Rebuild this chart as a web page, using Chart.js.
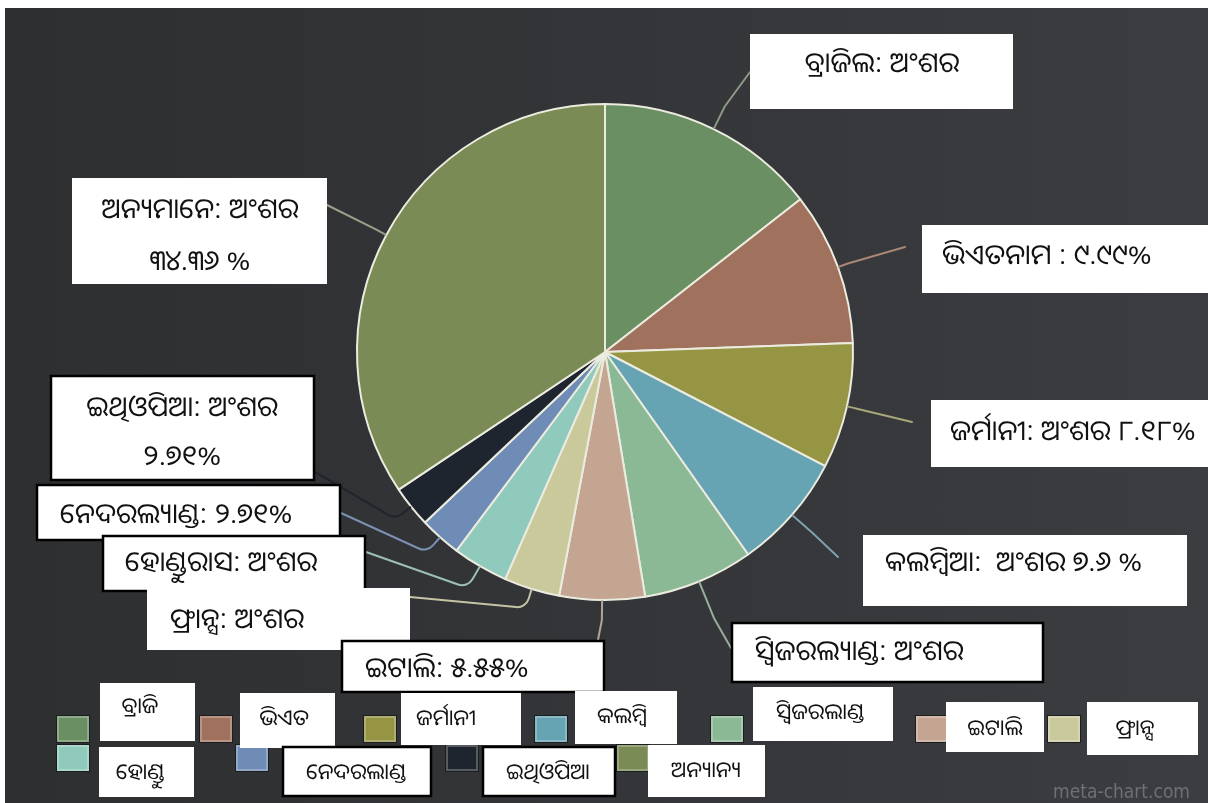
<!DOCTYPE html>
<html>
<head>
<meta charset="utf-8">
<title>ଅଂଶ</title>
<script src="https://cdn.jsdelivr.net/npm/chart.js@4"></script>
<style>
  html, body { margin: 0; padding: 0; background: #fff; }
  #backdrop {
    position: absolute; left: 5px; top: 8px; width: 1203px; height: 795px;
    background: linear-gradient(90deg, #2d2f31 0%, #333538 50%, #3b3d41 100%);
  }
  #wrap { position: absolute; left: 0; top: 0; width: 1208px; height: 803px; }
</style>
</head>
<body>
<div id="backdrop"></div>
<div id="wrap"><canvas id="pie"></canvas></div>
<script>
// slice data, clockwise from 12 o'clock
const names = ['ବ୍ରାଜିଲ', 'ଭିଏତନାମ', 'ଜର୍ମାନୀ', 'କଲମ୍ବିଆ', 'ସ୍ୱିଜରଲ୍ୟାଣ୍ଡ', 'ଇଟାଲି', 'ଫ୍ରାନ୍ସ', 'ହୋଣ୍ଡୁରାସ', 'ନେଦରଲ୍ୟାଣ୍ଡ', 'ଇଥିଓପିଆ', 'ଅନ୍ୟମାନେ'];
const legendNames = ['ବ୍ରାଜି', 'ଭିଏତ', 'ଜର୍ମାନୀ', 'କଲମ୍ବି', 'ସ୍ୱିଜରଲାଣ୍ଡ', 'ଇଟାଲି', 'ଫ୍ରାନ୍ସ', 'ହୋଣ୍ଡୁ', 'ନେଦରଲାଣ୍ଡ', 'ଇଥିଓପିଆ', 'ଅନ୍ୟାନ୍ୟ'];
const shares = [14.44, 9.99, 8.18, 7.6, 7.2, 5.55, 3.63, 3.63, 2.71, 2.71, 34.36];
const sliceColors = ['#6a8f63', '#a0725e', '#959544', '#66a4b4', '#8bb895', '#c3a591', '#c9c99b', '#8fcabd', '#6f8cb6', '#1e252e', '#7a8b55'];
const lineColors  = ['#8c9c86', '#a98676', '#a7a77a', '#7ea3ad', '#99ad9d', '#b4a497', '#c4c4a4', '#9cc0b8', '#7c90b0', '#1f242b', '#9a9f8c'];

// callout text per slice; {n} = name, {v} = share in Odia digits
const calloutText = [
  ['{n}: ଅଂଶର'],
  ['{n} : {v}%'],
  ['{n}: ଅଂଶର {v}%'],
  ['{n}:  ଅଂଶର {v} %'],
  ['{n}: ଅଂଶର'],
  ['{n}: {v}%'],
  ['{n}: ଅଂଶର'],
  ['{n}: ଅଂଶର'],
  ['{n}: {v}%'],
  ['{n}: ଅଂଶର', '{v}%'],
  ['{n}: ଅଂଶର', '{v} %'],
];

// callout placement: box [x, y, w, h], text anchor, leader (radial extension + end point)
const callouts = [
  { box: [750, 34, 263, 75],  border: false, tx: 882, ty: [64],       align: 'center', ext: 25, end: [750, 72] },
  { box: [922, 225, 290, 68], border: false, tx: 942, ty: [256],      align: 'left',   ext: 10, end: [905, 247] },
  { box: [931, 400, 280, 67], border: false, tx: 950, ty: [432],      align: 'left',   ext: 8,  end: [912, 422] },
  { box: [863, 535, 324, 71], border: false, tx: 885, ty: [563],      align: 'left',   ext: 25, end: [838, 557] },
  { box: [731, 622, 313, 61], border: true,  tx: 755, ty: [652],      align: 'left',   ext: 40, end: [731, 648] },
  { box: [341, 640, 264, 53], border: true,  tx: 365, ty: [669],      align: 'left',   ext: 20, end: [598, 640] },
  { box: [147, 588, 263, 62], border: false, tx: 170, ty: [620],      align: 'left',   ext: 20, end: [410, 597] },
  { box: [102, 535, 264, 57], border: true,  tx: 125, ty: [563],      align: 'left',   ext: 25, end: [366, 552] },
  { box: [36, 484, 305, 57],  border: true,  tx: 60,  ty: [515],      align: 'left',   ext: 20, end: [341, 513] },
  { box: [50, 375, 265, 106], border: true,  tx: 182, ty: [408, 457], align: 'center', ext: 20, end: [315, 472] },
  { box: [72, 178, 255, 106], border: false, tx: 200, ty: [210, 262], align: 'center', ext: 10, end: [327, 205] },
];
// painting order of the callout boxes (later ones overlap earlier ones)
const calloutOrder = [0, 1, 2, 3, 4, 10, 9, 8, 7, 6, 5];

// legend: swatch [x, y], label box [x, y, w, h], label centre
const legendItems = [
  { sw: [57, 716],   box: [100, 683, 95, 58],   tx: 140,  ty: 707, border: false },
  { sw: [200, 716],  box: [240, 693, 95, 55],   tx: 284,  ty: 719, border: false },
  { sw: [364, 716],  box: [401, 693, 120, 52],  tx: 446,  ty: 719, border: false },
  { sw: [535, 716],  box: [575, 691, 102, 53],  tx: 622,  ty: 717, border: false },
  { sw: [711, 716],  box: [753, 687, 140, 54],  tx: 820,  ty: 713, border: false },
  { sw: [916, 716],  box: [946, 702, 98, 50],   tx: 995,  ty: 729, border: false },
  { sw: [1048, 716], box: [1087, 702, 111, 53], tx: 1135, ty: 729, border: false },
  { sw: [57, 745],   box: [99, 747, 95, 50],    tx: 140,  ty: 773, border: false },
  { sw: [236, 745],  box: [282, 746, 150, 51],  tx: 356,  ty: 773, border: true },
  { sw: [446, 745],  box: [482, 746, 134, 51],  tx: 548,  ty: 773, border: true },
  { sw: [617, 745],  box: [648, 745, 117, 52],  tx: 706,  ty: 771, border: false },
];

const FONT = '"Noto Sans Oriya", "Noto Sans", "Lohit Odia", sans-serif';
const odiaDigits = '୦୧୨୩୪୫୬୭୮୯';

function toOdia(v) {
  return String(v).replace(/\d/g, d => odiaDigits[+d]);
}

function drawBox(ctx, b, border) {
  ctx.fillStyle = '#ffffff';
  ctx.fillRect(b[0], b[1], b[2], b[3]);
  if (border) {
    ctx.strokeStyle = '#000000';
    ctx.lineWidth = 2.5;
    ctx.strokeRect(b[0] + 1, b[1] + 1, b[2] - 2, b[3] - 2);
  }
}

const leaderPlugin = {
  id: 'leaders',
  afterDatasetsDraw(chart) {
    const ctx = chart.ctx;
    const arcs = chart.getDatasetMeta(0).data;
    ctx.save();
    ctx.lineWidth = 2;
    ctx.lineCap = 'round';
    arcs.forEach((arc, i) => {
      const c = callouts[i];
      const mid = (arc.startAngle + arc.endAngle) / 2;
      const r = arc.outerRadius;
      const sx = arc.x + Math.cos(mid) * (r + 1);
      const sy = arc.y + Math.sin(mid) * (r + 1);
      const kx = arc.x + Math.cos(mid) * (r + c.ext);
      const ky = arc.y + Math.sin(mid) * (r + c.ext);
      ctx.strokeStyle = lineColors[i];
      ctx.beginPath();
      ctx.moveTo(sx, sy);
      ctx.arcTo(kx, ky, c.end[0], c.end[1], 12);
      ctx.lineTo(c.end[0], c.end[1]);
      ctx.stroke();
    });
    ctx.restore();
  }
};

const labelPlugin = {
  id: 'callouts',
  afterDraw(chart) {
    const ctx = chart.ctx;
    ctx.save();
    ctx.textBaseline = 'middle';

    calloutOrder.forEach(i => {
      const c = callouts[i];
      drawBox(ctx, c.box, c.border);
      ctx.fillStyle = '#111111';
      ctx.font = '28px ' + FONT;
      ctx.textAlign = c.align;
      calloutText[i].forEach((t, k) => {
        const s = t.replace('{n}', names[i]).replace('{v}', toOdia(shares[i]));
        ctx.fillText(s, c.tx, c.ty[k]);
      });
    });

    // legend swatches first, label boxes laid over them
    legendItems.forEach((it, i) => {
      const [x, y] = it.sw;
      ctx.fillStyle = '#1c1d1f';
      ctx.fillRect(x - 1, y - 1, 34, 28);
      ctx.fillStyle = sliceColors[i];
      ctx.fillRect(x, y, 32, 26);
      ctx.strokeStyle = 'rgba(255,255,255,0.25)';
      ctx.lineWidth = 2;
      ctx.strokeRect(x + 1, y + 1, 30, 24);
    });
    legendItems.forEach((it, i) => {
      drawBox(ctx, it.box, it.border);
      ctx.fillStyle = '#111111';
      ctx.font = '22px ' + FONT;
      ctx.textAlign = 'center';
      ctx.fillText(legendNames[i], it.tx, it.ty);
    });

    ctx.fillStyle = '#6f7073';
    ctx.font = '19px "DejaVu Sans Condensed", sans-serif';
    ctx.textAlign = 'right';
    ctx.fillText('meta-chart.com', 1190, 793);
    ctx.restore();
  }
};

new Chart(document.getElementById('pie'), {
  type: 'pie',
  data: {
    labels: names,
    datasets: [{
      data: shares,
      backgroundColor: sliceColors,
      borderColor: '#ecebdf',
      borderWidth: 2,
    }]
  },
  options: {
    responsive: true,
    maintainAspectRatio: false,
    animation: false,
    layout: { padding: { top: 103, bottom: 202, left: 2, right: 0 } },
    plugins: {
      legend: { display: false },
      tooltip: { enabled: false },
    },
  },
  plugins: [leaderPlugin, labelPlugin],
});
</script>
</body>
</html>
